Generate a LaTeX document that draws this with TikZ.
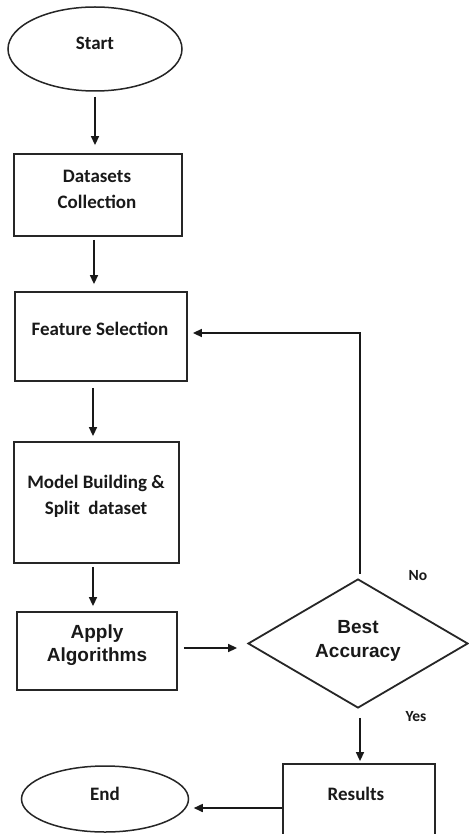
\documentclass[tikz,border=0pt]{standalone}
\usepackage{fontspec}
\setmainfont{Carlito}
\newfontfamily\arialb{Liberation Sans}
\usetikzlibrary{shapes.geometric,arrows.meta}
\begin{document}
\begin{tikzpicture}[x=1pt,y=-1pt,
  box/.style={draw=black!85,line width=1.8pt,rectangle,inner sep=0pt},
  oval/.style={draw=black!85,line width=1.5pt,ellipse,inner sep=0pt},
  dia/.style={draw=black!85,line width=1.8pt,diamond,inner sep=0pt},
  txt/.style={font=\fontsize{19}{26}\selectfont\bfseries,text=black!90,align=center,inner sep=0pt},
  atxt/.style={font=\arialb\fontsize{19}{23.5}\selectfont\bfseries,text=black!90,align=center,inner sep=0pt},
  lbl/.style={font=\fontsize{15.5}{18}\selectfont\bfseries,text=black!90,inner sep=0pt},
  arr/.style={draw=black!90,line width=1.5pt,-{Triangle[length=9pt,width=8pt]}}]
\useasboundingbox (0,0) rectangle (468,834);
\fill[white] (0,0) rectangle (468,834);
% shapes
\node[oval,minimum width=174pt,minimum height=84pt] (start) at (95,49) {};
\node[txt] (tstart) at (95,43) {Start};
\node[box,minimum width=168pt,minimum height=82pt] (ds) at (98,195) {};
\node[txt] (tds) at (97,189) {Datasets\\Collection};
\node[box,minimum width=172pt,minimum height=89pt] (fs) at (101,336.5) {};
\node[txt] (tfs) at (100,329) {Feature Selection};
\node[box,minimum width=165pt,minimum height=121pt] (mb) at (96.5,502.5) {};
\node[txt] (tmb) at (96,496) {Model Building \&\\Split\ \ dataset};
\node[box,minimum width=160pt,minimum height=78pt] (ap) at (97,651) {};
\node[atxt] (tap) at (97,645) {Apply\\Algorithms};
\node[dia,minimum width=220pt,minimum height=129pt,aspect=1.7] (dia) at (358,643.5) {};
\node[atxt] (tdia) at (358,641) {Best\\Accuracy};
\node[box,minimum width=152pt,minimum height=88pt] (res) at (359,808) {};
\node[txt] (tres) at (356,794) {Results};
\node[oval,minimum width=167pt,minimum height=66pt] (end) at (105,799) {};
\node[txt] (tend) at (105,794) {End};
\node[lbl] (no) at (418,576) {No};
\node[lbl] (yes) at (416,717) {Yes};
% connectors
\draw[arr,shorten <=5pt,shorten >=8pt] (start.south) -- (start.south |- ds.north);
\draw[arr,shorten <=3pt,shorten >=7pt] ([xshift=-4pt]ds.south) -- ([xshift=-4pt]ds.south |- fs.north);
\draw[arr,shorten <=6pt,shorten >=5pt] ([xshift=-8pt]fs.south) -- ([xshift=-8pt]fs.south |- mb.north);
\draw[arr,shorten <=3pt,shorten >=5pt] ([xshift=-3.5pt]mb.south) -- ([xshift=-3.5pt]mb.south |- ap.north);
\draw[arr,shorten <=6pt,shorten >=10pt] ([yshift=3pt]ap.east) -- ([yshift=3pt]ap.east -| dia.west);
\draw[arr,shorten <=4pt,shorten >=5pt] ([xshift=2pt]dia.north) -- ([xshift=2pt,yshift=3.5pt]dia.north |- fs.east) -- ([yshift=3.5pt]fs.east);
\draw[arr,shorten <=9pt,shorten >=2pt] ([xshift=2pt]dia.south) -- ([xshift=2pt]dia.south |- res.north);
\draw[arr,shorten <=0pt,shorten >=4.5pt] (res.west) -- (res.west -| end.east);
\end{tikzpicture}
\end{document}
